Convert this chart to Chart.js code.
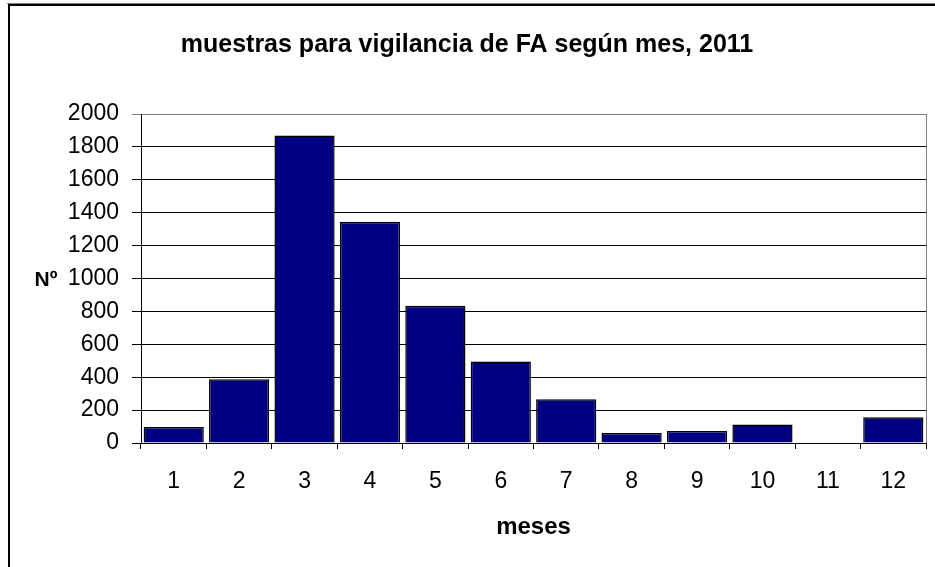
<!DOCTYPE html>
<html>
<head>
<meta charset="utf-8">
<script src="https://cdn.jsdelivr.net/npm/chart.js@4"></script>
<style>
  html, body { margin: 0; padding: 0; background: #fff; }
  #wrap { width: 935px; height: 567px; }
</style>
</head>
<body>
<div id="wrap"><canvas id="chart" width="935" height="567"></canvas></div>
<script>
// data
const months = ["1", "2", "3", "4", "5", "6", "7", "8", "9", "10", "11", "12"];
const samples = [97, 388, 1870, 1345, 835, 495, 266, 61, 73, 112, 0, 156];

const TITLE = "muestras para vigilancia de FA según mes, 2011";
const Y_TITLE = "Nº";
const X_TITLE = "meses";

const FONT = "'Liberation Sans', Arial, sans-serif";

// frame, title and axis titles drawn around the plot
const decor = {
  id: "decor",
  beforeDraw(chart) {
    const ctx = chart.ctx;
    ctx.save();
    ctx.fillStyle = "#ffffff";
    ctx.fillRect(0, 0, chart.width, chart.height);
    // cropped outer frame: only top and left edges show
    ctx.fillStyle = "#808080";
    ctx.fillRect(7, 3, chart.width - 7, 1);
    ctx.fillStyle = "#000000";
    ctx.fillRect(8, 4, chart.width - 8, 2);
    ctx.fillRect(8, 4, 2, chart.height - 4);
    ctx.restore();
  },
  afterDraw(chart) {
    const ctx = chart.ctx;
    const a = chart.chartArea;
    ctx.save();
    // plot area border on the right
    ctx.strokeStyle = "#808080";
    ctx.lineWidth = 1;
    ctx.beginPath();
    ctx.moveTo(a.right + 0.5, a.top);
    ctx.lineTo(a.right + 0.5, a.bottom);
    ctx.stroke();

    ctx.fillStyle = "#000000";
    ctx.textAlign = "center";
    ctx.textBaseline = "middle";
    ctx.font = "bold 25px " + FONT;
    ctx.fillText(TITLE, 467, 45);

    ctx.font = "bold 21px " + FONT;
    ctx.fillText(Y_TITLE, 46, 280);
    ctx.font = "bold 24px " + FONT;
    ctx.fillText(X_TITLE, (a.left + a.right) / 2, 527);
    ctx.restore();
  }
};

new Chart(document.getElementById("chart"), {
  type: "bar",
  data: {
    labels: months,
    datasets: [{
      data: samples,
      backgroundColor: "#000080",
      borderColor: "#000000",
      borderWidth: 1.5,
      barPercentage: 0.92,
      categoryPercentage: 1.0
    }]
  },
  options: {
    responsive: false,
    animation: false,
    layout: { padding: { left: 0, top: 114, right: 9, bottom: 0 } },
    plugins: {
      legend: { display: false },
      title: { display: false },
      tooltip: { enabled: false }
    },
    scales: {
      x: {
        offset: true,
        afterFit(scale) { scale.height = 124; },
        grid: {
          offset: true,
          drawOnChartArea: false,
          drawTicks: true,
          tickLength: 6,
          color: "#000000"
        },
        border: { color: "#000000", width: 1 },
        ticks: {
          color: "#000000",
          padding: 19,
          font: { family: FONT, size: 23 }
        }
      },
      y: {
        min: 0,
        max: 2000,
        afterFit(scale) { scale.width = 141; },
        grid: {
          color: (c) => (c.tick && c.tick.value === 2000 ? "#808080" : "#000000"),
          tickLength: 9,
          lineWidth: 1
        },
        border: { color: "#000000", width: 1 },
        ticks: {
          stepSize: 200,
          color: "#000000",
          padding: 13,
          font: { family: FONT, size: 23 },
          callback: (v) => String(v)
        }
      }
    }
  },
  plugins: [decor]
});
</script>
</body>
</html>
